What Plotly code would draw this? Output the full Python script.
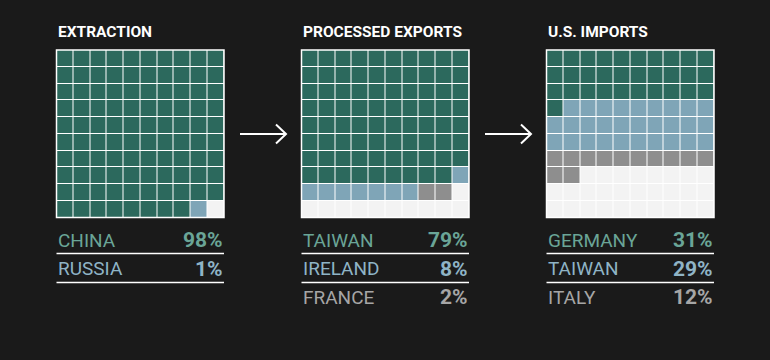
import plotly.graph_objects as go

W, H = 770, 360

# ---- data ----
panel_titles = ["EXTRACTION", "PROCESSED EXPORTS", "U.S. IMPORTS"]
extraction_countries = ["CHINA", "RUSSIA"]
extraction_pct = [98, 1]
exports_countries = ["TAIWAN", "IRELAND", "FRANCE"]
exports_pct = [79, 8, 2]
imports_countries = ["GERMANY", "TAIWAN", "ITALY"]
imports_pct = [31, 29, 12]

panels_countries = [extraction_countries, exports_countries, imports_countries]
panels_pct = [extraction_pct, exports_pct, imports_pct]

# ---- style ----
BG = "#1a1a1a"
CELL = ["#2c695d", "#7fa5b7", "#8e8e8e", "#f3f3f3"]
TXT = ["#6aa597", "#8fb4c6", "#a6a6a6"]
FONT = "Roboto"

grid_left = [56.5, 301.5, 546.5]
grid_size = 167.5
grid_top = 50
row_y = [240, 268.5, 297]
line_y = [253.5, 282.5]

def px(x):
    return x / W

def py(y):
    return 1 - y / H

fig = go.Figure()
shapes = []
annotations = []

for i in range(3):
    pct = panels_pct[i]
    flat = []
    for k, v in enumerate(pct):
        flat += [k] * v
    flat += [3] * (100 - len(flat))
    z = [flat[r * 10:(r + 1) * 10] for r in range(10)]
    n = "" if i == 0 else str(i + 1)
    cs = []
    for k, c in enumerate(CELL):
        cs.append([k / 4, c])
        cs.append([(k + 1) / 4, c])
    fig.add_trace(go.Heatmap(
        z=z, x=list(range(10)), y=list(range(10)),
        xaxis="x" + n, yaxis="y" + n,
        colorscale=cs, zmin=-0.5, zmax=3.5, showscale=False,
        xgap=1, ygap=1, hoverinfo="skip",
    ))
    x0 = grid_left[i]
    x1 = x0 + grid_size
    dom_x = [px(x0), px(x1)]
    dom_y = [py(grid_top + grid_size), py(grid_top)]
    ax = dict(domain=dom_x, range=[-0.5, 9.5], showgrid=False, zeroline=False,
              showticklabels=False, ticks="", fixedrange=True,
              anchor="y" + n)
    ay = dict(domain=dom_y, range=[9.5, -0.5], showgrid=False, zeroline=False,
              showticklabels=False, ticks="", fixedrange=True,
              anchor="x" + n)
    fig.update_layout(**{"xaxis" + n: ax, "yaxis" + n: ay})
    shapes.append(dict(type="rect", xref="paper", yref="paper",
                       x0=px(x0), x1=px(x1), y0=py(grid_top + grid_size), y1=py(grid_top),
                       line=dict(color="#ffffff", width=1.5), layer="above"))

    # title
    annotations.append(dict(text="<b>" + panel_titles[i] + "</b>", x=px(x0 - 1), y=py(32),
                            xref="paper", yref="paper", xanchor="left", yanchor="middle",
                            showarrow=False, font=dict(family=FONT, size=15.5, color="#ffffff")))
    # legend rows
    for k, c in enumerate(panels_countries[i]):
        annotations.append(dict(text=c, x=px(x0 - 1), y=py(row_y[k]),
                                xref="paper", yref="paper", xanchor="left", yanchor="middle",
                                showarrow=False, font=dict(family=FONT, size=19, color=TXT[k])))
        annotations.append(dict(text="<b>%d%%</b>" % pct[k], x=px(x1 + 1), y=py(row_y[k]),
                                xref="paper", yref="paper", xanchor="right", yanchor="middle",
                                showarrow=False, font=dict(family=FONT, size=21, color=TXT[k])))
    for k in range(2):
        shapes.append(dict(type="line", xref="paper", yref="paper",
                           x0=px(x0), x1=px(x1), y0=py(line_y[k]), y1=py(line_y[k]),
                           line=dict(color="#ffffff", width=1.5)))

# arrows
for ax0 in [240, 485]:
    shapes.append(dict(type="line", xref="paper", yref="paper",
                       x0=px(ax0), x1=px(ax0 + 46), y0=py(134), y1=py(134),
                       line=dict(color="#ffffff", width=2)))
    shapes.append(dict(type="path", xref="paper", yref="paper",
                       path="M %f,%f L %f,%f L %f,%f" % (px(ax0 + 36), py(124.5), px(ax0 + 46), py(134),
                                                         px(ax0 + 36), py(143.5)),
                       line=dict(color="#ffffff", width=2)))

fig.update_layout(width=W, height=H, margin=dict(l=0, r=0, t=0, b=0),
                  paper_bgcolor=BG, plot_bgcolor="#ffffff",
                  shapes=shapes, annotations=annotations, showlegend=False)

fig.write_html("out.html", config={"displayModeBar": False},
               post_script="document.body.style.margin='0';document.body.style.background='%s';" % BG)
